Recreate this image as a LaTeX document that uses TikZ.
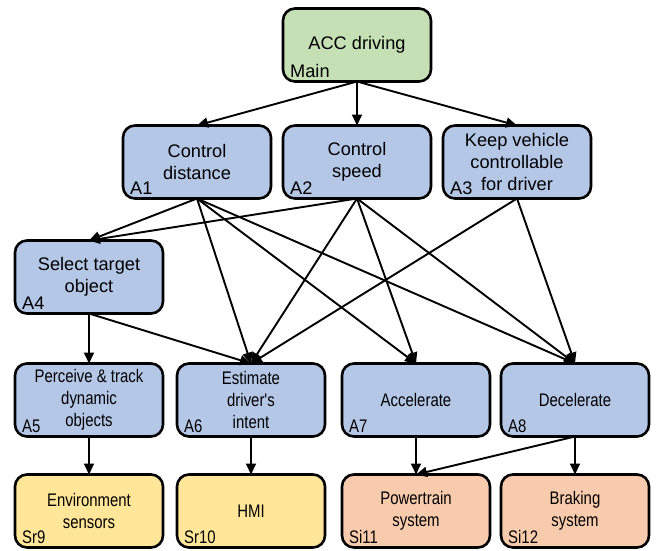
\documentclass[tikz,border=0pt]{standalone}
\usepackage{fontspec}
\setmainfont{Liberation Sans}
\newfontfamily\narrowsans[FakeStretch=0.82]{Liberation Sans}
\usetikzlibrary{arrows.meta,positioning}
\definecolor{goalgreen}{HTML}{C5E0B4}
\definecolor{funcblue}{HTML}{B4C7E7}
\definecolor{sensoryellow}{HTML}{FFE699}
\definecolor{systempeach}{HTML}{F8CBAD}
\tikzset{
  block/.style={rectangle, rounded corners=12pt, draw=black, line width=2.6pt,
    minimum width=148pt, minimum height=73pt, align=center, inner sep=2pt,
    outer sep=0pt, font=\fontsize{18.2}{22}\selectfont},
  lowblock/.style={block, font=\narrowsans\fontsize{18.2}{22}\selectfont},
  tag/.style={anchor=south west, inner sep=0pt, xshift=7pt, yshift=4pt,
    font=\fontsize{18.2}{22}\selectfont},
  lowtag/.style={tag, font=\narrowsans\fontsize{18.2}{22}\selectfont},
  link/.style={-{Triangle[length=11pt,width=10pt]}, line width=1.9pt},
}

\begin{document}
\begin{tikzpicture}[x=1pt, y=-1pt]
\useasboundingbox (0,0) rectangle (661,550);

% goal
\node[block, fill=goalgreen, label={[tag]south west:Main}] (main) at (357,45) {ACC driving};

% functions
\node[block, fill=funcblue, label={[tag]south west:A1}] (a1) at (197,162) {Control\\distance};
\node[block, fill=funcblue, label={[tag]south west:A2}] (a2) at (357,162) {Control\\speed};
\node[block, fill=funcblue, label={[tag]south west:A3}] (a3) at (517,162) {Keep vehicle\\controllable\\for driver};
\node[block, fill=funcblue, label={[tag]south west:A4}] (a4) at (89,277) {Select target\\object};
\node[lowblock, fill=funcblue, label={[lowtag]south west:A5}] (a5) at (89,400) {Perceive \& track\\dynamic\\objects};
\node[lowblock, fill=funcblue, label={[lowtag]south west:A6}] (a6) at (251,400) {Estimate\\driver's\\intent};
\node[lowblock, fill=funcblue, label={[lowtag]south west:A7}] (a7) at (416,400) {Accelerate};
\node[lowblock, fill=funcblue, label={[lowtag]south west:A8}] (a8) at (575,400) {Decelerate};

% sensors and systems
\node[lowblock, fill=sensoryellow, label={[lowtag]south west:Sr9}] (sr9) at (89,511) {Environment\\sensors};
\node[lowblock, fill=sensoryellow, label={[lowtag]south west:Sr10}] (sr10) at (251,511) {HMI};
\node[lowblock, fill=systempeach, label={[lowtag]south west:Si11}] (si11) at (416,511) {Powertrain\\system};
\node[lowblock, fill=systempeach, label={[lowtag]south west:Si12}] (si12) at (575,511) {Braking\\system};

% links
\foreach \src/\dst in {main/a1, main/a2, main/a3,
    a1/a4, a1/a6, a1/a7, a1/a8,
    a2/a4, a2/a6, a2/a7, a2/a8,
    a3/a6, a3/a8,
    a4/a5, a4/a6,
    a5/sr9, a6/sr10, a7/si11, a8/si11, a8/si12}
  \draw[link] (\src.south) -- (\dst.north);
\end{tikzpicture}
\end{document}
